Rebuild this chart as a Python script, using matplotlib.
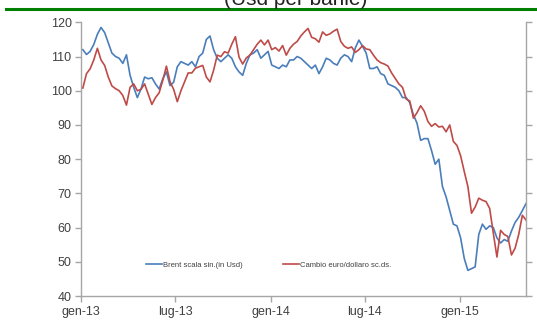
import matplotlib
matplotlib.use("Agg")
import matplotlib.pyplot as plt
import matplotlib.lines as mlines
import numpy as np
import pandas as pd

# Weekly observations (Fridays), Jan 2013 - May 2015
dates = pd.date_range("2013-01-04", "2015-05-08", freq="W-FRI")

brent_usd = [
    # 2013
    112.0, 110.6, 111.5, 113.5, 116.5, 118.5, 117.0, 114.0, 111.0, 110.0,
    109.5, 108.0, 110.5, 104.5, 101.0, 98.0, 100.5, 104.0, 103.5, 103.8,
    102.0, 100.5, 103.5, 105.5, 101.5, 102.5, 107.0, 108.5, 108.0, 107.5,
    108.5, 107.0, 110.0, 111.0, 115.0, 116.0, 112.0, 109.5, 108.5, 109.5,
    110.5, 109.5, 107.0, 105.5, 104.5, 108.0, 110.5, 111.0, 112.0, 109.5,
    110.5, 111.5,
    # 2014
    107.5, 107.0, 106.5, 107.5, 107.0, 109.0, 109.0, 110.0, 109.5, 108.5,
    107.5, 106.5, 107.5, 105.0, 107.0, 109.5, 109.0, 108.0, 107.5, 109.5,
    110.5, 110.0, 108.5, 112.5, 114.8, 113.0, 111.0, 106.5, 106.5, 107.0,
    105.0, 104.5, 102.0, 101.5, 101.0, 100.0, 98.0, 98.0, 96.5, 93.0,
    90.5, 85.5, 86.0, 86.0, 82.5, 78.5, 80.0, 72.0, 69.0, 65.0,
    61.0, 60.5,
    # 2015
    57.0, 51.0, 47.5, 48.0, 48.5, 58.0, 61.0, 59.5, 60.5, 60.0,
    57.0, 55.5, 56.5, 56.0, 59.0, 61.5, 63.0, 65.0, 67.0,
]

eur_usd = [
    # 2013
    1.304, 1.325, 1.332, 1.345, 1.362, 1.345, 1.337, 1.320, 1.307, 1.303,
    1.300, 1.293, 1.279, 1.305, 1.310, 1.300, 1.302, 1.310, 1.295, 1.280,
    1.290, 1.297, 1.315, 1.336, 1.313, 1.302, 1.284, 1.300, 1.313, 1.326,
    1.326, 1.333, 1.335, 1.337, 1.320, 1.313, 1.330, 1.352, 1.350, 1.357,
    1.355, 1.368, 1.379, 1.349, 1.339, 1.348, 1.352, 1.360, 1.368, 1.374,
    1.367, 1.374,
    # 2014
    1.360, 1.363, 1.358, 1.366, 1.352, 1.362, 1.368, 1.372, 1.380, 1.386,
    1.391, 1.378, 1.376, 1.371, 1.386, 1.381, 1.383, 1.387, 1.390, 1.372,
    1.365, 1.362, 1.364, 1.356, 1.360, 1.366, 1.361, 1.360, 1.352, 1.345,
    1.341, 1.339, 1.336, 1.326, 1.318, 1.310, 1.305, 1.288, 1.285, 1.260,
    1.268, 1.278, 1.270, 1.255, 1.248, 1.252, 1.247, 1.248, 1.240, 1.250,
    1.226, 1.220,
    # 2015
    1.205, 1.182, 1.160, 1.121, 1.130, 1.143, 1.140, 1.138, 1.128, 1.092,
    1.057, 1.096, 1.090, 1.087, 1.060, 1.070, 1.090, 1.118, 1.111,
]

tick_dates = pd.to_datetime(["2013-01-01", "2013-07-01", "2014-01-01",
                             "2014-07-01", "2015-01-01"])
tick_labels = ["gen-13", "lug-13", "gen-14", "lug-14", "gen-15"]
left_ticks = np.arange(40, 121, 10)
right_ticks = np.arange(1.0, 1.401, 0.05)

blue = "#4a7ebb"
red = "#be4b48"
axis_grey = "#a6a6a6"
text_grey = "#404040"

plt.rcParams["font.family"] = ["Liberation Sans", "DejaVu Sans"]

fig = plt.figure(figsize=(5.37, 3.22), dpi=100)
fig.patch.set_facecolor("white")

# heading strip with its rule
fig.text(0.551, 1.003, "(Usd per barile)", ha="center", va="center",
         fontsize=15, color="#222222")
fig.add_artist(mlines.Line2D([0.011, 1.0], [0.972, 0.972],
                             color="#008000", lw=2.2))

ax = fig.add_axes([0.1514, 0.0807, 0.8281, 0.85])
ax2 = ax.twinx()

ax.plot(dates, brent_usd, color=blue, lw=1.2, zorder=3)
ax2.plot(dates, eur_usd, color=red, lw=1.2, zorder=2)

ax.set_xlim(pd.Timestamp("2013-01-01"), pd.Timestamp("2015-05-08"))
ax.set_ylim(40, 120)
ax2.set_ylim(1.0, 1.4)

ax.set_yticks(left_ticks)
ax.set_xticks(tick_dates)
ax.set_xticklabels(tick_labels)
ax2.set_yticks(right_ticks)
ax2.set_yticklabels([])

for a in (ax, ax2):
    a.spines["top"].set_visible(False)
    for s in ("left", "right", "bottom"):
        a.spines[s].set_color(axis_grey)
        a.spines[s].set_linewidth(1.0)
ax.spines["right"].set_visible(False)
ax2.spines["left"].set_visible(False)
ax2.spines["bottom"].set_visible(False)

ax.tick_params(axis="y", direction="out", length=4, width=1,
               color=axis_grey, labelsize=9, labelcolor=text_grey, pad=3)
ax.tick_params(axis="x", direction="out", length=4, width=1,
               color=axis_grey, labelsize=9, labelcolor=text_grey, pad=3)
ax2.tick_params(axis="y", direction="out", length=4, width=1,
                color=axis_grey)

# legend entries
h1 = mlines.Line2D([], [], color=blue, lw=1.2)
h2 = mlines.Line2D([], [], color=red, lw=1.2)
leg = ax.legend([h1, h2],
                ["Brent scala sin.(in Usd)", "Cambio euro/dollaro sc.ds."],
                loc="center left", bbox_to_anchor=(0.13, 0.113),
                ncol=2, frameon=False, handlelength=2.1,
                handletextpad=0.1, columnspacing=5.3,
                prop={"family": ["Liberation Sans Narrow", "Liberation Sans"],
                      "size": 5.5})
for t in leg.get_texts():
    t.set_color(text_grey)

fig.savefig("out.png", dpi=100, facecolor="white")
